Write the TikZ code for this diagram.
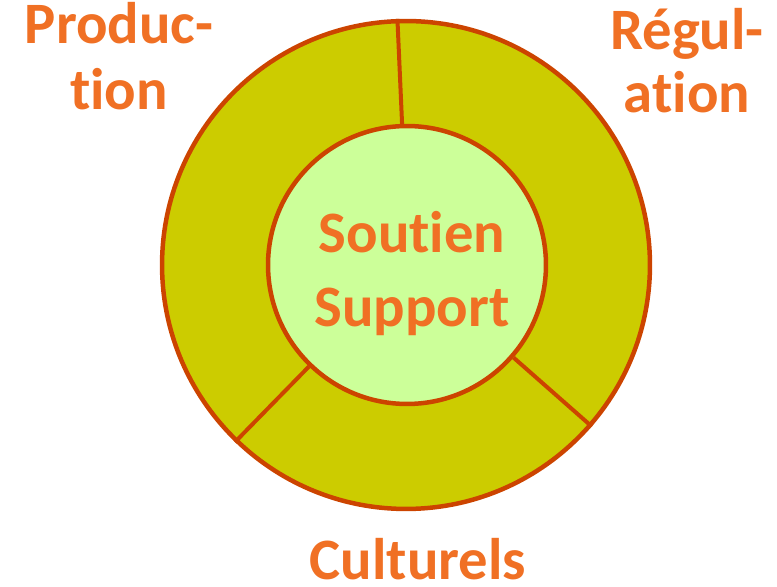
\documentclass[tikz,border=0pt]{standalone}
\usepackage{fontspec}
\setmainfont{Carlito}[Ligatures=NoCommon]
\usepackage{tikz}
\definecolor{ringfill}{RGB}{204,204,0}
\definecolor{corefill}{RGB}{204,255,153}
\definecolor{rimline}{RGB}{204,68,0}
\definecolor{wordcolor}{RGB}{240,112,36}

\begin{document}
\begin{tikzpicture}[x=0.02cm, y=0.02cm,
  ring/.style={circle, draw=rimline, line width=0.09cm, inner sep=0},
  divider/.style={draw=rimline, line width=0.08cm},
  wordbox/.style={font=\bfseries\fontsize{33.4}{38}\selectfont, text=wordcolor, align=center, inner sep=0}]
\useasboundingbox (0,0) rectangle (777,587);
%rings
\node[ring, fill=ringfill, minimum size=9.76cm] (outer) at (406,322) {};
\node[ring, fill=corefill, minimum size=5.56cm] (core) at (407,322) {};
\draw[divider] (core.92) -- (outer.92);
\draw[divider] (core.-41) -- (outer.-41);
\draw[divider] (core.-134) -- (outer.-134);
%labels
\node[wordbox, anchor=base, font=\bfseries\fontsize{33.4}{42.5}\selectfont] (soutien) at (412,260) {Soutien\\Support};
\node[wordbox, anchor=base] (prod) at (119,477) {Produc-\\tion};
\node[wordbox, anchor=base, font=\bfseries\fontsize{33.4}{36.4}\selectfont] (regul) at (687,474) {Régul-\\ation};
\node[wordbox, anchor=base, text depth=0pt] (cult) at (418,7) {Culturels};
\end{tikzpicture}
\end{document}
